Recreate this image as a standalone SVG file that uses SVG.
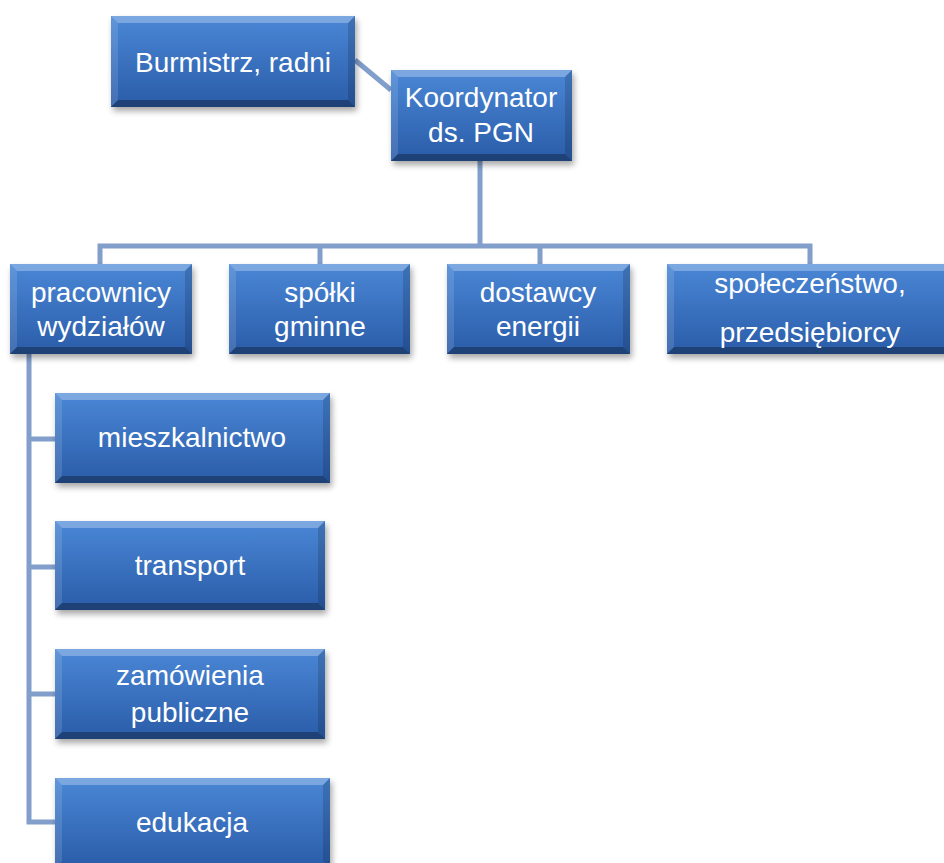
<svg xmlns="http://www.w3.org/2000/svg" width="944" height="863" viewBox="0 0 944 863">
<defs>
<linearGradient id="g" x1="0" y1="0" x2="0" y2="1">
<stop offset="0" stop-color="#4a87d6"/>
<stop offset="1" stop-color="#2a5ca8"/>
</linearGradient>
<filter id="sh" x="-10%" y="-10%" width="120%" height="140%">
<feGaussianBlur stdDeviation="3"/>
</filter>
<style>
.sh{fill:#000;opacity:.35;filter:url(#sh)}
.b{fill:url(#g)}
.bt{fill:#fff;opacity:.28}
.bl{fill:#fff;opacity:.12}
.br{fill:#000;opacity:.15}
.bb{fill:#000;opacity:.3}
.t{fill:#fff;font-family:"Liberation Sans",Arial,sans-serif;font-size:28px;text-anchor:middle}
.c{stroke:#829ecb;stroke-width:5;fill:none}
</style>
</defs>
<rect width="944" height="863" fill="#fff"/>
<g id="connectors">
<line class="c" x1="355" y1="60" x2="391" y2="90"/>
<path class="c" d="M480 161V246M100 264V246H810V264M320 246V264M540 246V264"/>
<path class="c" d="M29 354V822H55M29 439H55M29 567H55M29 694H55"/>
</g>
<g id="burmistrz">
<rect class="sh" x="113" y="20" width="244" height="91"/>
<rect class="b" x="111" y="16" width="244" height="91"/>
<polygon class="bt" points="111,16 355,16 348,23 118,23"/>
<polygon class="bl" points="111,16 118,23 118,100 111,107"/>
<polygon class="br" points="355,16 355,107 348,100 348,23"/>
<polygon class="bb" points="111,107 355,107 348,100 118,100"/>
<text class="t" x="233" y="72">Burmistrz, radni</text>
</g>
<g id="koordynator">
<rect class="sh" x="393" y="74" width="181" height="91"/>
<rect class="b" x="391" y="70" width="181" height="91"/>
<polygon class="bt" points="391,70 572,70 565,77 398,77"/>
<polygon class="bl" points="391,70 398,77 398,154 391,161"/>
<polygon class="br" points="572,70 572,161 565,154 565,77"/>
<polygon class="bb" points="391,161 572,161 565,154 398,154"/>
<text class="t" x="481" y="107">Koordynator</text>
<text class="t" x="481" y="142">ds. PGN</text>
</g>
<g id="pracownicy">
<rect class="sh" x="12" y="268" width="182" height="90"/>
<rect class="b" x="10" y="264" width="182" height="90"/>
<polygon class="bt" points="10,264 192,264 185,271 17,271"/>
<polygon class="bl" points="10,264 17,271 17,347 10,354"/>
<polygon class="br" points="192,264 192,354 185,347 185,271"/>
<polygon class="bb" points="10,354 192,354 185,347 17,347"/>
<text class="t" x="101" y="302">pracownicy</text>
<text class="t" x="101" y="336">wydziałów</text>
</g>
<g id="spolki">
<rect class="sh" x="231" y="268" width="181" height="90"/>
<rect class="b" x="229" y="264" width="181" height="90"/>
<polygon class="bt" points="229,264 410,264 403,271 236,271"/>
<polygon class="bl" points="229,264 236,271 236,347 229,354"/>
<polygon class="br" points="410,264 410,354 403,347 403,271"/>
<polygon class="bb" points="229,354 410,354 403,347 236,347"/>
<text class="t" x="320" y="302">spółki</text>
<text class="t" x="320" y="336">gminne</text>
</g>
<g id="dostawcy">
<rect class="sh" x="449" y="268" width="183" height="90"/>
<rect class="b" x="447" y="264" width="183" height="90"/>
<polygon class="bt" points="447,264 630,264 623,271 454,271"/>
<polygon class="bl" points="447,264 454,271 454,347 447,354"/>
<polygon class="br" points="630,264 630,354 623,347 623,271"/>
<polygon class="bb" points="447,354 630,354 623,347 454,347"/>
<text class="t" x="538" y="302">dostawcy</text>
<text class="t" x="538" y="336">energii</text>
</g>
<g id="spoleczenstwo">
<rect class="sh" x="669" y="268" width="290" height="90"/>
<rect class="b" x="667" y="264" width="290" height="90"/>
<polygon class="bt" points="667,264 957,264 950,271 674,271"/>
<polygon class="bl" points="667,264 674,271 674,347 667,354"/>
<polygon class="bb" points="667,354 957,354 950,347 674,347"/>
<text class="t" x="810" y="293">społeczeństwo,</text>
<text class="t" x="810" y="342">przedsiębiorcy</text>
</g>
<g id="mieszkalnictwo">
<rect class="sh" x="57" y="397" width="275" height="90"/>
<rect class="b" x="55" y="393" width="275" height="90"/>
<polygon class="bt" points="55,393 330,393 323,400 62,400"/>
<polygon class="bl" points="55,393 62,400 62,476 55,483"/>
<polygon class="br" points="330,393 330,483 323,476 323,400"/>
<polygon class="bb" points="55,483 330,483 323,476 62,476"/>
<text class="t" x="192" y="447">mieszkalnictwo</text>
</g>
<g id="transport">
<rect class="sh" x="57" y="525" width="270" height="89"/>
<rect class="b" x="55" y="521" width="270" height="89"/>
<polygon class="bt" points="55,521 325,521 318,528 62,528"/>
<polygon class="bl" points="55,521 62,528 62,603 55,610"/>
<polygon class="br" points="325,521 325,610 318,603 318,528"/>
<polygon class="bb" points="55,610 325,610 318,603 62,603"/>
<text class="t" x="190" y="575">transport</text>
</g>
<g id="zamowienia">
<rect class="sh" x="57" y="653" width="270" height="90"/>
<rect class="b" x="55" y="649" width="270" height="90"/>
<polygon class="bt" points="55,649 325,649 318,656 62,656"/>
<polygon class="bl" points="55,649 62,656 62,732 55,739"/>
<polygon class="br" points="325,649 325,739 318,732 318,656"/>
<polygon class="bb" points="55,739 325,739 318,732 62,732"/>
<text class="t" x="190" y="685">zamówienia</text>
<text class="t" x="190" y="722">publiczne</text>
</g>
<g id="edukacja">
<rect class="sh" x="57" y="782" width="275" height="90"/>
<rect class="b" x="55" y="778" width="275" height="90"/>
<polygon class="bt" points="55,778 330,778 323,785 62,785"/>
<polygon class="bl" points="55,778 62,785 62,861 55,868"/>
<polygon class="br" points="330,778 330,868 323,861 323,785"/>
<text class="t" x="192" y="832">edukacja</text>
</g>
</svg>
